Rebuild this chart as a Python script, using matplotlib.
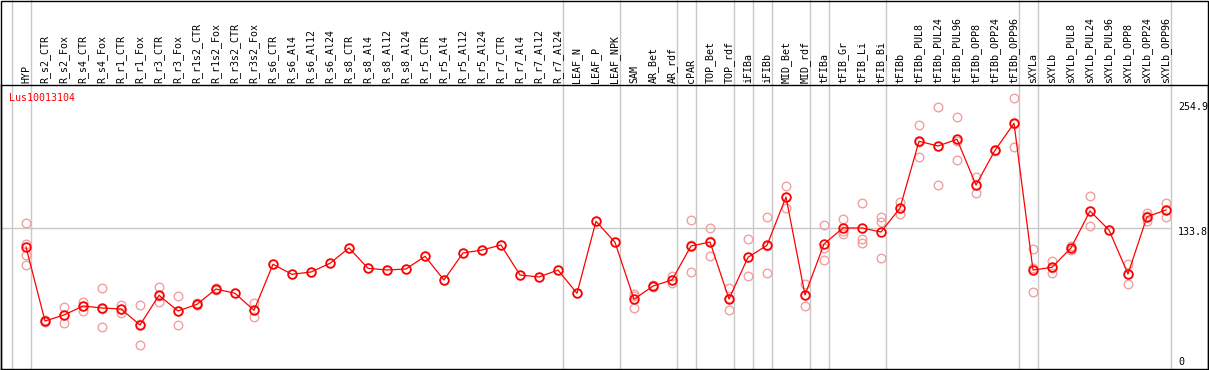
import numpy as np
import matplotlib
matplotlib.use("Agg")
import matplotlib.pyplot as plt
from matplotlib.transforms import blended_transform_factory
from matplotlib.patches import Rectangle

# --- data ---
gene = "Lus10013104"

samples = ["HYP", "R_s2_CTR", "R_s2_Fox", "R_s4_CTR", "R_s4_Fox", "R_r1_CTR", "R_r1_Fox",
           "R_r3_CTR", "R_r3_Fox", "R_r1s2_CTR", "R_r1s2_Fox", "R_r3s2_CTR", "R_r3s2_Fox",
           "R_s6_CTR", "R_s6_Al4", "R_s6_Al12", "R_s6_Al24", "R_s8_CTR", "R_s8_Al4",
           "R_s8_Al12", "R_s8_Al24", "R_r5_CTR", "R_r5_Al4", "R_r5_Al12", "R_r5_Al24",
           "R_r7_CTR", "R_r7_Al4", "R_r7_Al12", "R_r7_Al24", "LEAF_N", "LEAF_P", "LEAF_NPK",
           "SAM", "AR_Bet", "AR_rdf", "cPAR", "TOP_Bet", "TOP_rdf", "iFIBa", "iFIBb",
           "MID_Bet", "MID_rdf", "tFIBa", "tFIB_Gr", "tFIB_Li", "tFIB_Bi", "tFIBb",
           "tFIBb_PUL8", "tFIBb_PUL24", "tFIBb_PUL96", "tFIBb_OPP8", "tFIBb_OPP24",
           "tFIBb_OPP96", "sXYLa", "sXYLb", "sXYLb_PUL8", "sXYLb_PUL24", "sXYLb_PUL96",
           "sXYLb_OPP8", "sXYLb_OPP24", "sXYLb_OPP96"]

means = [115, 41, 47, 56, 54, 53, 37, 66.7, 51, 57.7, 73, 68.7, 51.7,
         97.7, 87.7, 90, 98.7, 114, 93.7, 92, 93, 105.7, 82, 109, 112,
         117, 87, 85, 92, 68.7, 140.7, 119.7,
         62.7, 76, 82, 116, 120, 63, 104.7, 116.7, 165, 67, 118, 134, 134, 130, 154,
         220.7, 216, 222.7, 177, 211.7, 238.7,
         92, 94.7, 114, 151, 132, 88, 145.3, 152]

replicates = [[139, 118, 107, 97], [42, 40, 41], [55, 47, 39], [60, 56, 51], [74, 53, 35],
              [57, 53, 49], [57, 38, 17], [75, 66, 60], [66, 51, 37], [59, 57, 57],
              [74, 72, 73], [68.7], [59, 52, 45],
              [97.7], [87.7], [90], [98.7], [114], [93.7], [92], [93], [105.7], [82],
              [109], [112], [117], [87], [85], [92], [68.7], [140.7], [119.7],
              [68, 66, 54], [77, 75, 76], [86, 82, 79], [142, 117, 90], [134, 121, 106],
              [74, 64, 52], [123, 105, 86], [145, 116, 89], [176, 165, 154], [78, 67, 56],
              [137, 114, 102], [143, 131, 128], [159, 123, 119], [145, 140, 104],
              [160, 154, 148], [237, 220, 205], [255, 216, 177], [245, 221, 202],
              [185, 177, 169], [212, 211, 212], [264, 238, 215],
              [113, 94, 70], [101, 94, 89], [116, 114, 112], [166, 151, 136], [132],
              [98, 88, 78], [149, 146, 141], [159, 152, 145]]

# group separators come after these sample numbers (0 = before the first)
group_ends = [0, 1, 29, 32, 35, 36, 38, 39, 40, 42, 43, 46, 53, 54, 61]

y_max = 254.9
y_mid = 133.8

# --- layout: 1209 x 370 px ---
W, H = 1209, 370
fig = plt.figure(figsize=(W / 100, H / 100), dpi=100)
ax = fig.add_axes([1 / W, 1 / H, 1207 / W, 284 / H])

mono = "DejaVu Sans Mono"
fs = 7.2
grey = "#c8c8c8"

x = np.arange(1, len(samples) + 1)
ax.set_xlim(-6 / 19, 1201 / 19)
ax.set_ylim(-7, 277)

# separators and mid gridline
xt = blended_transform_factory(ax.transData, ax.transAxes)
sep = np.array(group_ends) + 0.25
ax.vlines(sep, 0, H / 284, transform=xt, colors=grey, lw=1, clip_on=False, zorder=1)
ax.hlines(y_mid, ax.get_xlim()[0], sep[-1], colors=grey, lw=1, zorder=1)

# replicate points
for xi, reps in zip(x, replicates):
    ax.plot([xi] * len(reps), reps, ls="none", marker="o", ms=6.2, mfc="none",
            mec="#f0a0a0", mew=1.0, zorder=2)

# mean line
ax.plot(x, means, color="red", lw=0.9, marker="o", ms=6.2, mfc="none", mec="red",
        mew=1.3, zorder=3)

# sample labels in the header
for xi, s in zip(x, samples):
    ax.text(xi, 1 + 2 / 284, s, transform=xt, rotation=90, ha="center", va="bottom",
            fontsize=fs, family=mono, clip_on=False)

# value labels on the right
lx = (1178 - 7) / 19
ax.text(lx, y_max, f"{y_max}", ha="left", va="center", fontsize=fs, family=mono)
ax.text(lx, y_mid - 4, f"{y_mid}", ha="left", va="center", fontsize=fs, family=mono)
ax.text(lx, 0, "0", ha="left", va="center", fontsize=fs, family=mono)

ax.text(8 / 1207, (369 - 98) / 284, gene, transform=ax.transAxes, color="red",
        ha="left", va="center", fontsize=fs, family=mono)

ax.set_xticks([])
ax.set_yticks([])
for sp in ax.spines.values():
    sp.set_linewidth(1)

fig.add_artist(Rectangle((0.5 / W, 0.5 / H), (W - 1.5) / W, (H - 1.5) / H,
                         transform=fig.transFigure, fill=False, ec="black", lw=1))

fig.savefig("out.png", dpi=100)
